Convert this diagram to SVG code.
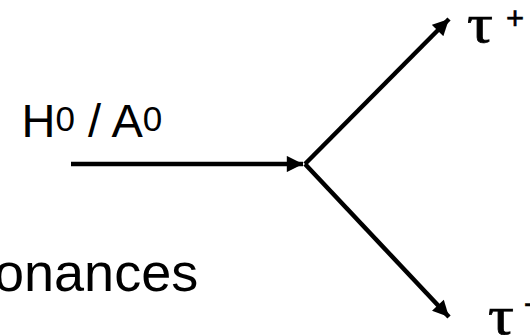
<svg xmlns="http://www.w3.org/2000/svg" width="530" height="335" viewBox="0 0 530 335">
<style>
.sans{font-family:"Liberation Sans",Arial,sans-serif;fill:#000}
.serif{font-family:"Liberation Serif","Times New Roman",serif;fill:#000}
.tau{font-size:54px;stroke:#000;stroke-width:0.7}
.sup{font-size:31px;stroke:#000;stroke-width:0.6}
.ln{stroke:#000;stroke-width:4.5;fill:none}
</style>
<defs>
<marker id="ah" viewBox="0 0 10 10" refX="10" refY="5" markerWidth="3.8" markerHeight="3.6" orient="auto" markerUnits="strokeWidth">
<path d="M0,0 L10,5 L0,10 z" fill="#000"/>
</marker>
</defs>
<rect width="530" height="335" fill="#fff"/>
<g id="connectors">
<line class="ln" x1="71" y1="164" x2="303" y2="164" marker-end="url(#ah)"/>
<line class="ln" x1="305" y1="164" x2="449" y2="19" marker-end="url(#ah)"/>
<line class="ln" x1="305" y1="164" x2="449" y2="317" marker-end="url(#ah)"/>
</g>
<g id="label-h">
<text class="sans" x="21.5" y="137" font-size="47">H<tspan font-size="35" dy="-6">0</tspan><tspan dy="6"> / A</tspan><tspan font-size="35" dy="-6">0</tspan></text>
</g>
<g id="label-res">
<text class="sans" x="-6" y="291" font-size="54">onances</text>
</g>
<g id="tau-plus">
<text class="serif tau" transform="translate(467,42) scale(1.2,1)">τ</text>
<text class="sans sup" x="506" y="29">+</text>
</g>
<g id="tau-minus">
<text class="serif tau" transform="translate(488,334) scale(1.2,1)">τ</text>
<text class="sans sup" x="524" y="313">-</text>
</g>
</svg>
